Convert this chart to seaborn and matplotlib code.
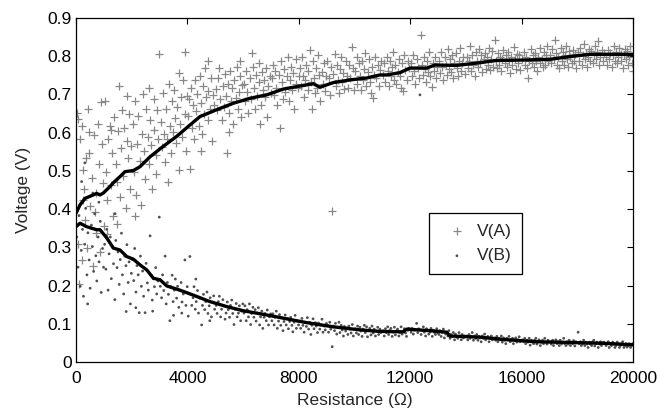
import matplotlib
matplotlib.use("Agg")
import matplotlib.pyplot as plt
import seaborn as sns
import pandas as pd
from matplotlib.ticker import FuncFormatter

# ---------------- data ----------------
va_points = [
    (35,0.652),(88,0.637),(146,0.583),(203,0.618),(258,0.503),(297,0.452),(334,0.371),(381,0.298),(417,0.661),(468,0.547),
    (512,0.409),(563,0.482),(598,0.252),(641,0.594),(702,0.338),(728,0.441),(779,0.622),(823,0.517),(866,0.287),(918,0.571),
    (957,0.468),(61,0.309),(118,0.203),(232,0.268),(352,0.534),(449,0.603),(684,0.392),(884,0.679),(991,0.357),(247,0.423),
    (1027,0.683),(1083,0.497),(1118,0.424),(1162,0.583),(1204,0.617),(1251,0.463),(1297,0.548),(1343,0.381),(1379,0.642),(1423,0.519),
    (1458,0.472),(1502,0.604),(1537,0.723),(1581,0.431),(1618,0.561),(1664,0.658),(1703,0.487),(1738,0.612),(1792,0.402),(1827,0.579),
    (1873,0.533),(1908,0.648),(1953,0.452),(1987,0.566),(1097,0.334),(1482,0.362),(1848,0.697),(1268,0.607),
    (2034,0.623),(2068,0.498),(2113,0.684),(2147,0.437),(2203,0.571),(2238,0.643),(2284,0.527),(2317,0.412),(2362,0.596),(2398,0.701),
    (2447,0.553),(2493,0.478),(2528,0.662),(2574,0.589),(2613,0.518),(2648,0.634),(2702,0.567),(2737,0.452),(2783,0.687),(2818,0.607),
    (2863,0.542),(2897,0.658),(2952,0.584),(2991,0.805),(2121,0.383),(2604,0.718),(2879,0.493),
    (3043,0.628),(3078,0.562),(3117,0.703),(3163,0.597),(3198,0.524),(3243,0.662),(3277,0.583),(3322,0.728),(3358,0.617),(3403,0.548),
    (3437,0.683),(3482,0.603),(3518,0.712),(3563,0.638),(3597,0.572),(3642,0.667),(3683,0.503),(3718,0.622),(3762,0.693),(3797,0.588),
    (3853,0.737),(3897,0.648),(3912,0.812),(3948,0.553),(3993,0.697),(3302,0.472),(3703,0.757),
    (4033,0.643),(4068,0.688),(4091,0.504),(4118,0.718),(4163,0.612),(4198,0.673),(4242,0.584),(4277,0.738),(4323,0.657),(4358,0.702),
    (4403,0.617),(4438,0.748),(4483,0.677),(4517,0.597),(4562,0.723),(4597,0.648),(4643,0.768),(4678,0.693),(4722,0.632),(4757,0.708),
    (4803,0.663),(4838,0.742),(4883,0.578),(4917,0.698),(4962,0.672),(4502,0.552),(4748,0.787),
    (5028,0.713),(5073,0.658),(5108,0.742),(5152,0.769),(5187,0.687),(5233,0.632),(5268,0.723),(5313,0.668),(5348,0.753),(5392,0.697),
    (5412,0.548),(5447,0.728),(5493,0.652),(5528,0.762),(5572,0.683),(5607,0.717),(5653,0.623),(5688,0.738),(5733,0.692),(5768,0.773),
    (5812,0.662),(5847,0.707),(5893,0.748),(5927,0.641),(5972,0.724),(5503,0.603),(5902,0.788),
    (6027,0.728),(6072,0.683),(6108,0.762),(6153,0.707),(6188,0.652),(6232,0.743),(6267,0.688),(6312,0.809),(6347,0.773),(6393,0.718),
    (6428,0.663),(6472,0.752),(6507,0.697),(6553,0.783),(6588,0.732),(6633,0.672),(6667,0.758),(6713,0.712),(6748,0.737),(6793,0.693),
    (6828,0.768),(6873,0.642),(6907,0.723),(6953,0.747),(6987,0.703),(6598,0.623),
    (7032,0.742),(7067,0.777),(7113,0.698),(7148,0.762),(7193,0.718),(7227,0.672),(7273,0.752),(7322,0.612),(7357,0.787),(7403,0.733),
    (7437,0.688),(7483,0.767),(7518,0.707),(7563,0.748),(7597,0.798),(7643,0.683),(7678,0.738),(7723,0.772),(7757,0.712),(7803,0.757),
    (7838,0.663),(7883,0.727),(7917,0.792),(7963,0.718),(7992,0.748),
    (8027,0.768),(8073,0.723),(8108,0.797),(8153,0.748),(8187,0.693),(8233,0.738),(8268,0.778),(8313,0.712),(8347,0.762),(8402,0.817),
    (8437,0.733),(8461,0.661),(8503,0.787),(8538,0.742),(8583,0.703),(8617,0.768),(8663,0.718),(8698,0.802),(8743,0.752),(8777,0.683),
    (8823,0.758),(8857,0.727),(8903,0.782),(8937,0.708),(8983,0.747),
    (9028,0.788),(9072,0.742),(9107,0.698),(9153,0.772),(9200,0.395),(9238,0.753),(9283,0.807),(9318,0.722),(9362,0.778),(9397,0.738),
    (9443,0.703),(9478,0.767),(9523,0.798),(9557,0.732),(9603,0.757),(9638,0.713),(9683,0.787),(9717,0.748),(9763,0.718),(9797,0.777),
    (9843,0.743),(9900,0.823),(9938,0.768),(9983,0.712),
    (10028,0.762),(10073,0.797),(10107,0.728),(10152,0.782),(10187,0.748),(10233,0.712),(10268,0.787),(10313,0.738),(10347,0.767),(10392,0.808),
    (10428,0.722),(10472,0.758),(10507,0.792),(10553,0.732),(10588,0.703),(10632,0.773),(10670,0.690),(10708,0.752),(10753,0.798),(10787,0.742),
    (10833,0.777),(10868,0.723),(10912,0.763),(10948,0.788),
    (11027,0.752),(11073,0.783),(11108,0.733),(11152,0.798),(11188,0.762),(11233,0.722),(11267,0.788),(11313,0.748),(11348,0.772),(11393,0.812),
    (11427,0.738),(11472,0.777),(11508,0.728),(11553,0.758),(11587,0.793),(11632,0.747),(11668,0.718),(11713,0.782),(11750,0.710),(11793,0.803),
    (11828,0.763),(11873,0.737),(11907,0.787),(11952,0.768),
    (12028,0.782),(12072,0.748),(12107,0.803),(12153,0.762),(12188,0.727),(12233,0.792),(12268,0.768),(12312,0.742),(12370,0.856),(12408,0.777),
    (12453,0.752),(12487,0.798),(12533,0.767),(12568,0.732),(12612,0.787),(12647,0.758),(12692,0.812),(12728,0.748),(12770,0.719),(12807,0.783),
    (12852,0.762),(12888,0.797),(12932,0.743),(12967,0.773),
    (13027,0.788),(13073,0.757),(13108,0.812),(13152,0.772),(13187,0.738),(13232,0.797),(13268,0.778),(13313,0.752),(13348,0.818),(13393,0.767),
    (13428,0.792),(13472,0.758),(13507,0.803),(13553,0.742),(13588,0.782),(13632,0.808),(13667,0.768),(13713,0.748),(13748,0.787),(13792,0.822),
    (13827,0.762),(13873,0.783),(13908,0.798),(13952,0.753),
    (14028,0.797),(14072,0.768),(14107,0.788),(14152,0.828),(14188,0.762),(14232,0.802),(14267,0.777),(14313,0.748),(14348,0.812),(14392,0.787),
    (14427,0.773),(14473,0.818),(14508,0.782),(14552,0.803),(14587,0.758),(14633,0.792),(14668,0.808),(14712,0.767),(14748,0.798),(14793,0.778),
    (14828,0.822),(14872,0.763),(14907,0.793),(14953,0.813),(14988,0.772),
    (15040,0.843),(15073,0.787),(15108,0.768),(15152,0.808),(15187,0.777),(15233,0.798),(15268,0.762),(15312,0.792),(15347,0.817),(15393,0.783),
    (15428,0.802),(15472,0.772),(15507,0.812),(15553,0.788),(15588,0.757),(15632,0.797),(15667,0.778),(15713,0.823),(15748,0.793),(15792,0.767),
    (15827,0.807),(15873,0.782),(15908,0.803),(15953,0.763),
    (16028,0.792),(16072,0.812),(16107,0.777),(16153,0.798),(16187,0.768),(16240,0.743),(16278,0.788),(16323,0.818),(16357,0.782),(16402,0.803),
    (16437,0.772),(16483,0.808),(16517,0.787),(16562,0.762),(16597,0.797),(16643,0.783),(16677,0.822),(16722,0.793),(16757,0.773),(16803,0.812),
    (16837,0.778),(16882,0.802),(16917,0.828),(16963,0.788),
    (17027,0.803),(17072,0.782),(17107,0.818),(17153,0.792),(17200,0.843),(17238,0.808),(17273,0.777),(17318,0.798),(17352,0.768),(17398,0.822),
    (17433,0.787),(17478,0.812),(17512,0.778),(17558,0.802),(17592,0.828),(17638,0.793),(17672,0.772),(17718,0.813),(17752,0.797),(17798,0.783),
    (17833,0.817),(17878,0.788),(17912,0.807),(17958,0.768),
    (18028,0.812),(18073,0.788),(18108,0.822),(18152,0.778),(18187,0.802),(18233,0.832),(18267,0.792),(18313,0.808),(18347,0.772),(18393,0.798),
    (18427,0.818),(18473,0.787),(18508,0.813),(18553,0.782),(18587,0.803),(18633,0.827),(18667,0.793),(18713,0.812),(18750,0.841),(18793,0.777),
    (18827,0.797),(18873,0.817),(18907,0.788),(18953,0.808),
    (19027,0.798),(19073,0.778),(19107,0.817),(19153,0.792),(19187,0.808),(19233,0.772),(19268,0.803),(19313,0.828),(19347,0.787),(19393,0.812),
    (19427,0.782),(19473,0.797),(19508,0.822),(19553,0.788),(19587,0.807),(19633,0.768),(19667,0.802),(19713,0.818),(19747,0.793),(19793,0.813),
    (19827,0.777),(19873,0.798),(19907,0.827),(19953,0.783),(19988,0.762),
]

vb_points = [
    (28,0.327),(72,0.248),(108,0.383),(152,0.198),(188,0.292),(233,0.347),(268,0.172),(312,0.308),(348,0.402),(393,0.228),
    (428,0.338),(472,0.267),(508,0.193),(553,0.358),(588,0.302),(633,0.237),(668,0.388),(713,0.278),(748,0.212),(792,0.327),
    (828,0.262),(873,0.368),(907,0.182),(953,0.297),(988,0.248),(202,0.472),(318,0.521),(603,0.442),(418,0.152),(822,0.418),
    (1028,0.308),(1072,0.243),(1107,0.347),(1153,0.188),(1188,0.283),(1232,0.327),(1268,0.218),(1313,0.302),(1347,0.257),(1392,0.163),
    (1428,0.318),(1473,0.247),(1507,0.288),(1552,0.203),(1588,0.268),(1633,0.337),(1667,0.228),(1712,0.178),(1748,0.277),(1793,0.252),
    (1828,0.307),(1872,0.208),(1907,0.262),(1953,0.152),(1988,0.232),(1402,0.388),(1802,0.132),
    (2028,0.268),(2073,0.213),(2107,0.297),(2153,0.183),(2188,0.252),(2232,0.228),(2270,0.129),(2313,0.277),(2347,0.198),(2392,0.238),
    (2427,0.172),(2480,0.129),(2517,0.258),(2562,0.207),(2597,0.188),(2660,0.330),(2703,0.227),(2738,0.162),(2783,0.218),(2817,0.197),
    (2862,0.247),(2898,0.178),(2943,0.212),(2990,0.379),(2148,0.142),(2752,0.133),
    (3028,0.198),(3073,0.168),(3108,0.228),(3152,0.187),(3200,0.277),(3238,0.152),(3283,0.208),(3318,0.177),(3370,0.108),(3407,0.197),
    (3453,0.227),(3488,0.158),(3532,0.188),(3567,0.217),(3613,0.167),(3648,0.198),(3692,0.143),(3727,0.187),(3773,0.208),(3808,0.157),
    (3852,0.178),(3910,0.267),(3947,0.148),(3993,0.197),(3502,0.122),(3798,0.128),
    (4030,0.120),(4090,0.276),(4122,0.177),(4157,0.148),(4203,0.168),(4237,0.197),(4282,0.138),(4317,0.158),(4363,0.187),(4398,0.128),
    (4443,0.167),(4510,0.097),(4542,0.148),(4577,0.177),(4623,0.137),(4657,0.158),(4703,0.183),(4738,0.127),(4783,0.147),(4817,0.168),
    (4863,0.118),(4897,0.157),(4943,0.173),(4978,0.138),(4302,0.217),(4803,0.108),
    (5032,0.148),(5067,0.127),(5113,0.158),(5148,0.172),(5192,0.118),(5227,0.138),(5273,0.163),(5308,0.147),(5353,0.112),(5388,0.128),
    (5433,0.157),(5468,0.137),(5513,0.117),(5548,0.148),(5593,0.162),(5628,0.127),(5673,0.098),(5708,0.138),(5753,0.153),(5788,0.118),
    (5833,0.128),(5867,0.147),(5912,0.108),(5948,0.133),(5992,0.152),
    (6032,0.128),(6067,0.147),(6112,0.108),(6148,0.137),(6193,0.118),(6227,0.152),(6272,0.098),(6307,0.127),(6353,0.143),(6388,0.117),
    (6433,0.137),(6467,0.107),(6512,0.128),(6548,0.142),(6593,0.097),(6627,0.118),(6672,0.133),(6708,0.088),(6753,0.117),(6787,0.127),
    (6832,0.108),(6868,0.136),(6913,0.097),(6947,0.118),(6992,0.126),
    (7032,0.108),(7068,0.126),(7113,0.097),(7147,0.117),(7192,0.133),(7228,0.088),(7273,0.107),(7307,0.124),(7352,0.096),(7388,0.116),
    (7433,0.082),(7468,0.106),(7513,0.123),(7548,0.097),(7593,0.114),(7627,0.087),(7672,0.106),(7708,0.117),(7753,0.096),(7787,0.079),
    (7832,0.104),(7868,0.122),(7913,0.088),(7947,0.107),(7992,0.097),
    (8032,0.106),(8067,0.088),(8113,0.114),(8147,0.096),(8192,0.078),(8228,0.104),(8273,0.093),(8307,0.116),(8353,0.086),(8388,0.104),
    (8433,0.072),(8467,0.096),(8512,0.113),(8548,0.087),(8593,0.103),(8627,0.094),(8672,0.077),(8707,0.102),(8753,0.086),(8787,0.097),
    (8832,0.112),(8868,0.078),(8912,0.094),(8948,0.084),(8992,0.101),
    (9032,0.096),(9068,0.078),(9113,0.104),(9148,0.086),(9200,0.040),(9237,0.094),(9283,0.082),(9317,0.101),(9362,0.073),(9398,0.091),
    (9442,0.104),(9477,0.077),(9522,0.096),(9558,0.084),(9602,0.068),(9637,0.093),(9682,0.081),(9718,0.089),(9762,0.072),(9797,0.094),
    (9842,0.086),(9877,0.076),(9922,0.098),(9958,0.068),
    (10032,0.087),(10068,0.076),(10112,0.094),(10148,0.072),(10193,0.091),(10227,0.081),(10272,0.067),(10308,0.086),(10353,0.096),(10387,0.077),
    (10432,0.092),(10468,0.066),(10513,0.082),(10548,0.088),(10592,0.071),(10628,0.094),(10673,0.076),(10707,0.086),(10752,0.068),(10788,0.081),
    (10833,0.091),(10867,0.072),(10913,0.086),(10947,0.077),
    (11032,0.082),(11068,0.068),(11112,0.087),(11147,0.077),(11193,0.092),(11227,0.072),(11272,0.083),(11307,0.088),(11352,0.067),(11388,0.078),
    (11433,0.091),(11467,0.071),(11512,0.082),(11547,0.086),(11593,0.068),(11627,0.077),(11673,0.092),(11707,0.073),(11752,0.081),(11787,0.087),
    (11833,0.076),(11867,0.067),(11912,0.083),(11948,0.088),
    (12032,0.078),(12067,0.088),(12113,0.073),(12148,0.083),(12230,0.101),(12272,0.077),(12307,0.087),(12350,0.699),(12392,0.072),(12427,0.083),
    (12472,0.092),(12507,0.078),(12553,0.068),(12588,0.087),(12632,0.082),(12667,0.073),(12712,0.078),(12748,0.088),(12793,0.067),(12828,0.083),
    (12873,0.077),(12907,0.072),(12953,0.087),(12988,0.076),
    (13032,0.072),(13067,0.082),(13113,0.067),(13148,0.077),(13192,0.086),(13228,0.063),(13273,0.073),(13307,0.078),(13352,0.068),(13388,0.082),
    (13433,0.062),(13467,0.072),(13512,0.067),(13548,0.077),(13593,0.058),(13627,0.073),(13672,0.067),(13707,0.062),(13753,0.077),(13787,0.068),
    (13833,0.058),(13867,0.072),(13913,0.063),(13947,0.068),
    (14032,0.068),(14067,0.058),(14112,0.072),(14148,0.062),(14193,0.067),(14227,0.077),(14272,0.057),(14307,0.068),(14352,0.062),(14388,0.072),
    (14433,0.057),(14467,0.067),(14512,0.063),(14548,0.053),(14592,0.068),(14628,0.062),(14673,0.073),(14707,0.058),(14753,0.063),(14787,0.067),
    (14832,0.053),(14868,0.062),(14913,0.068),(14947,0.058),
    (15032,0.063),(15067,0.057),(15113,0.067),(15147,0.053),(15193,0.062),(15227,0.058),(15272,0.068),(15308,0.052),(15353,0.063),(15387,0.057),
    (15432,0.048),(15468,0.062),(15512,0.058),(15547,0.067),(15593,0.053),(15627,0.058),(15673,0.062),(15707,0.048),(15752,0.057),(15788,0.063),
    (15833,0.052),(15867,0.058),(15913,0.066),(15947,0.053),
    (16032,0.058),(16068,0.053),(16112,0.062),(16147,0.048),(16193,0.057),(16227,0.052),(16272,0.062),(16307,0.044),(16353,0.057),(16387,0.052),
    (16432,0.048),(16467,0.057),(16513,0.062),(16548,0.047),(16592,0.053),(16628,0.058),(16673,0.043),(16707,0.052),(16753,0.057),(16787,0.048),
    (16833,0.062),(16867,0.052),(16913,0.047),(16947,0.057),
    (17032,0.053),(17067,0.047),(17113,0.057),(17147,0.043),(17192,0.052),(17228,0.058),(17273,0.048),(17307,0.053),(17353,0.043),(17387,0.057),
    (17433,0.047),(17467,0.052),(17512,0.062),(17548,0.048),(17593,0.043),(17627,0.053),(17672,0.047),(17707,0.057),(17753,0.043),(17787,0.052),
    (17833,0.048),(17867,0.056),(17913,0.042),(17947,0.053),
    (18030,0.078),(18068,0.048),(18113,0.053),(18147,0.043),(18193,0.048),(18227,0.057),(18272,0.043),(18307,0.052),(18353,0.047),(18387,0.038),
    (18433,0.052),(18467,0.047),(18512,0.043),(18547,0.053),(18593,0.057),(18627,0.042),(18673,0.048),(18707,0.052),(18753,0.038),(18787,0.047),
    (18833,0.053),(18867,0.043),(18913,0.048),(18947,0.052),
    (19032,0.043),(19067,0.048),(19113,0.053),(19147,0.038),(19193,0.047),(19227,0.043),(19273,0.052),(19307,0.047),(19353,0.038),(19387,0.043),
    (19433,0.052),(19467,0.047),(19513,0.038),(19547,0.043),(19593,0.048),(19627,0.053),(19673,0.038),(19707,0.043),(19753,0.048),(19787,0.039),
    (19833,0.043),(19867,0.048),(19913,0.038),(19947,0.044),(19988,0.048),
]

# running-trend curves (thick black)
va_trend = [
    (0,0.389),(144,0.411),(323,0.428),(743,0.441),(862,0.437),(980,0.442),(1220,0.459),(1340,0.469),
    (1580,0.485),(1760,0.498),(2060,0.501),(2300,0.511),(2660,0.537),(3130,0.564),(3610,0.590),
    (4090,0.620),(4450,0.642),(5050,0.660),(5650,0.677),(6250,0.690),(6850,0.699),(7440,0.714),
    (8040,0.722),(8520,0.728),(8760,0.719),(9240,0.731),(9840,0.738),(10440,0.743),(10910,0.751),
    (11150,0.751),(11630,0.757),(11990,0.769),(12590,0.769),(12890,0.777),(13670,0.776),(14380,0.782),
    (15100,0.789),(16060,0.790),(17020,0.792),(17730,0.799),(18450,0.805),(19170,0.805),(20000,0.805),
]
vb_trend = [
    (0,0.354),(144,0.363),(383,0.354),(743,0.346),(862,0.346),(1100,0.325),(1340,0.298),(1580,0.293),
    (1820,0.276),(2060,0.269),(2300,0.254),(2540,0.241),(2780,0.219),(3020,0.215),(3260,0.199),
    (3730,0.188),(4210,0.175),(4810,0.158),(5410,0.145),(6010,0.134),(6850,0.123),(7560,0.113),
    (8280,0.103),(9240,0.092),(10200,0.084),(10910,0.080),(11750,0.079),(11870,0.086),(12710,0.082),
    (13310,0.078),(13430,0.068),(14500,0.065),(15340,0.059),(16540,0.053),(17730,0.051),(18930,0.049),
    (20000,0.045),
]

x_ticks = [0, 4000, 8000, 12000, 16000, 20000]
y_ticks = [0, 0.1, 0.2, 0.3, 0.4, 0.5, 0.6, 0.7, 0.8, 0.9]
series_labels = ["V(A)", "V(B)"]
x_label = "Resistance (\u03a9)"
y_label = "Voltage (V)"

# ---------------- plotting ----------------
sns.set_style("white")
plt.rcParams["font.family"] = ["Liberation Sans", "DejaVu Sans"]
plt.rcParams["font.size"] = 12.5

dfa = pd.DataFrame(va_points, columns=["R", "V"])
dfb = pd.DataFrame(vb_points, columns=["R", "V"])
dta = pd.DataFrame(va_trend, columns=["R", "V"])
dtb = pd.DataFrame(vb_trend, columns=["R", "V"])

fig = plt.figure(figsize=(6.57, 4.13), dpi=100)
ax = fig.add_axes([76/657, 1-362/413, (633-76)/657, (362-18)/413])

sns.scatterplot(data=dfa, x="R", y="V", marker="+", s=30, color="#888888",
                linewidth=0.9, label=series_labels[0], ax=ax, zorder=2)
sns.scatterplot(data=dfb, x="R", y="V", marker="o", s=4, color="#505050",
                edgecolor="none", label=series_labels[1], ax=ax, zorder=2)
sns.lineplot(data=dta, x="R", y="V", color="black", lw=2.4, sort=False,
             estimator=None, legend=False, ax=ax, zorder=3)
sns.lineplot(data=dtb, x="R", y="V", color="black", lw=2.4, sort=False,
             estimator=None, legend=False, ax=ax, zorder=3)

ax.set_xlim(0, 20000)
ax.set_ylim(0, 0.9)
ax.set_xticks(x_ticks)
ax.set_yticks(y_ticks)
ax.yaxis.set_major_formatter(FuncFormatter(lambda v, p: f"{v:g}"))
ax.xaxis.set_major_formatter(FuncFormatter(lambda v, p: f"{v:g}"))
ax.tick_params(direction="in", length=4, width=0.8, top=True, right=True,
               labelsize=12.5, colors="black")
ax.tick_params(axis="x", pad=6.5)
ax.tick_params(axis="y", pad=3)
for s in ax.spines.values():
    s.set_color("black")
    s.set_linewidth(0.9)

ax.set_xlabel(x_label, fontsize=12.5, labelpad=5)
ax.set_ylabel(y_label, fontsize=12.5, labelpad=12)

leg = ax.legend(loc="upper left", bbox_to_anchor=(0.634, 0.433), borderaxespad=0,
                frameon=True, fancybox=False, edgecolor="black", fontsize=12.5,
                handlelength=2.0, handletextpad=0.15, borderpad=0.6,
                labelspacing=0.55, markerscale=1.0)
leg.get_frame().set_linewidth(0.9)
leg.get_frame().set_alpha(1)

fig.savefig("out.png", dpi=100)
